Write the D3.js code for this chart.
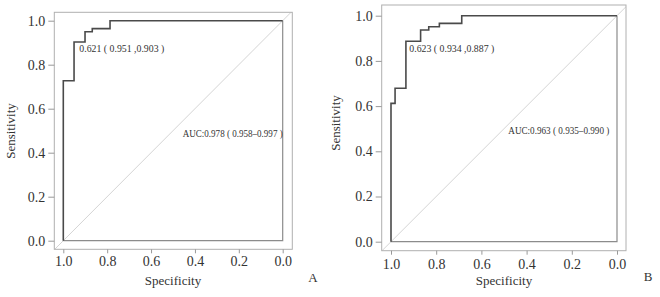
<!DOCTYPE html>
<html><head><meta charset="utf-8">
<script src="https://cdn.jsdelivr.net/npm/d3@7"></script>
<style>body{margin:0;background:#fff}svg{display:block}svg text{font-family:"Liberation Serif","Tinos","DejaVu Serif",serif !important;fill:#333}</style>
</head><body>
<script>
// ROC step points (specificity, sensitivity)
const specA = [1.0, 1.0, 0.951, 0.951, 0.901, 0.901, 0.868, 0.868, 0.787, 0.787, 0.0];
const sensA = [0.0, 0.727, 0.727, 0.903, 0.903, 0.950, 0.950, 0.964, 0.964, 1.0, 1.0];
const specB = [1.0, 1.0, 0.982, 0.982, 0.934, 0.934, 0.869, 0.869, 0.833, 0.833, 0.786, 0.786, 0.687, 0.687, 0.0];
const sensB = [0.0, 0.612, 0.612, 0.679, 0.679, 0.887, 0.887, 0.937, 0.937, 0.951, 0.951, 0.966, 0.966, 1.0, 1.0];
const tickValues = [0.0, 0.2, 0.4, 0.6, 0.8, 1.0];
const cutoffLabels = ["0.621 ( 0.951 ,0.903 )", "0.623 ( 0.934 ,0.887 )"];
const aucLabels = ["AUC:0.978 ( 0.958–0.997 )", "AUC:0.963 ( 0.935–0.990 )"];
const panelLetters = ["A", "B"];

const FONT = '"Liberation Serif", "DejaVu Serif", serif';
const svg = d3.select("body").append("svg").attr("width", 660).attr("height", 297)
  .attr("font-family", FONT);

const panels = [
  {spec: specA, sens: sensA, x0: 63.3, x1: 282.7, y0: 240.7, y1: 20.7,
   box: [54.3, 12.3, 292.3, 249.3], ylabX: 12, ylabY: 131, xtY: 262.5, xlabY: 282, letterX: 313, letterY: 279,
   cutX: 79.3, cutY: 50, cutW: 85, aucX: 182.7, aucY: 135, aucW: 100},
  {spec: specB, sens: sensB, x0: 391, x1: 617, y0: 241.7, y1: 15.7,
   box: [381.7, 5, 626, 250.7], ylabX: 337, ylabY: 123, xtY: 265.5, xlabY: 282, letterX: 648, letterY: 278,
   cutX: 409.3, cutY: 50, cutW: 85, aucX: 508.3, aucY: 132, aucW: 101}
];

panels.forEach((p, i) => {
  const g = svg.append("g");
  const x = d3.scaleLinear().domain([1, 0]).range([p.x0, p.x1]);
  const y = d3.scaleLinear().domain([0, 1]).range([p.y0, p.y1]);
  const [bl, bt, br, bb] = p.box;
  const clipId = "clip" + i;
  svg.append("clipPath").attr("id", clipId).append("rect")
    .attr("x", bl).attr("y", bt).attr("width", br - bl).attr("height", bb - bt);

  g.append("line").attr("clip-path", `url(#${clipId})`)
    .attr("x1", x(1.1)).attr("y1", y(-0.1)).attr("x2", x(-0.1)).attr("y2", y(1.1))
    .attr("stroke", "#cfcfcf").attr("stroke-width", 0.9);

  g.append("path")
    .attr("d", d3.line()([[x(1), y(0)], [x(0), y(0)], [x(0), y(1)]]))
    .attr("fill", "none").attr("stroke", "#8c8c8c").attr("stroke-width", 1.2);

  g.append("rect").attr("x", bl).attr("y", bt).attr("width", br - bl).attr("height", bb - bt)
    .attr("fill", "none").attr("stroke", "#b0b0b0").attr("stroke-width", 1);

  const pts = p.spec.map((s, k) => [s, p.sens[k]]);
  g.append("path")
    .attr("d", d3.line().x(d => x(d[0])).y(d => y(d[1]))(pts))
    .attr("fill", "none").attr("stroke", "#4a4a4a").attr("stroke-width", 1.6);

  const ya = g.append("g").attr("transform", `translate(${bl},0)`)
    .call(d3.axisLeft(y).tickValues(tickValues).tickFormat(d3.format(".1f")).tickSize(6).tickPadding(3));
  ya.attr("font-family", FONT).attr("font-size", 14);
  ya.select(".domain").remove();
  ya.selectAll("line").attr("stroke", "#999");
  ya.selectAll("text").attr("fill", "#333");

  const xa = g.append("g").attr("transform", `translate(0,${bb})`)
    .call(d3.axisBottom(x).tickValues(tickValues).tickFormat(d3.format(".1f")).tickSize(4).tickPadding(0));
  xa.attr("font-family", FONT).attr("font-size", 14);
  xa.select(".domain").remove();
  xa.selectAll("line").attr("stroke", "#999");
  xa.selectAll("text").attr("fill", "#333").attr("y", null)
    .attr("dy", null).attr("dominant-baseline", "middle")
    .attr("transform", `translate(0,${p.xtY - bb})`);

  g.append("text").attr("x", (x(1) + x(0)) / 2).attr("y", p.xlabY).attr("text-anchor", "middle")
    .attr("dominant-baseline", "middle").attr("font-size", 13).text("Specificity");
  g.append("text").attr("transform", `translate(${p.ylabX},${p.ylabY}) rotate(-90)`)
    .attr("text-anchor", "middle").attr("dominant-baseline", "middle").attr("font-size", 13).text("Sensitivity");
  g.append("text").attr("x", p.letterX).attr("y", p.letterY).attr("text-anchor", "middle")
    .attr("dominant-baseline", "middle").attr("font-size", 13).text(panelLetters[i]);

  g.append("text").attr("x", p.cutX).attr("y", p.cutY).attr("dominant-baseline", "middle")
    .attr("font-size", 10.5).attr("fill", "#222")
    .attr("textLength", p.cutW).attr("lengthAdjust", "spacingAndGlyphs").text(cutoffLabels[i]);
  g.append("text").attr("x", p.aucX).attr("y", p.aucY).attr("dominant-baseline", "middle")
    .attr("font-size", 10.5).attr("fill", "#222")
    .attr("textLength", p.aucW).attr("lengthAdjust", "spacingAndGlyphs").text(aucLabels[i]);
});
</script>
</body></html>
